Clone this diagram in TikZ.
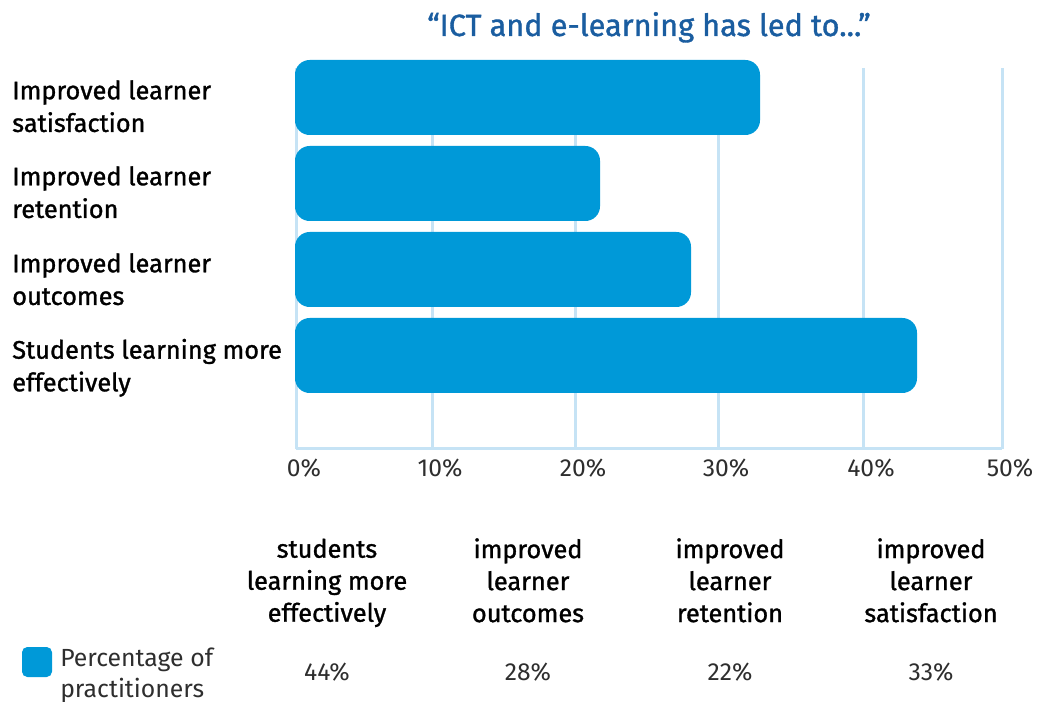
\documentclass[tikz,border=0pt]{standalone}
\usepackage{fontspec}
\setmainfont{Fira Sans}
\newfontfamily\medfont{Fira Sans}[FakeBold=1.2]
\definecolor{barblue}{HTML}{0099D8}
\definecolor{gridblue}{HTML}{C6E3F5}
\definecolor{titleblue}{HTML}{1A5DA0}
\definecolor{lighttext}{HTML}{2E2E2E}
\tikzset{
  gridline/.style={gridblue, line width=2.25pt},
  bar/.style={fill=barblue, rounded corners=11pt},
  rowlabel/.style={anchor=west, inner sep=0pt, align=left,
    font=\medfont\fontsize{19}{24.5}\selectfont,
    execute at begin node=\strut, execute at end node=\strut},
  colhead/.style={anchor=center, inner sep=0pt, align=center,
    font=\medfont\fontsize{19}{24}\selectfont,
    execute at begin node=\strut, execute at end node=\strut},
  ticklabel/.style={anchor=base, inner sep=0pt, text=lighttext,
    font=\fontsize{18.5}{22}\selectfont},
}
\begin{document}
\begin{tikzpicture}[x=0.75pt, y=-0.75pt]
\useasboundingbox (0,0) rectangle (1051,702);
%\draw[help lines] (0,0) grid[step=50] (1051,702);
% title
\node[anchor=base, inner sep=0pt, text=titleblue,
  font=\medfont\fontsize{23}{27}\selectfont] (title) at (649,36)
  {“ICT and e-learning has led to...”};
% grid and axis
\foreach \gx/\pc in {296/0,432/10,575/20,718/30,863/40,1002/50}{
  \draw[gridline] (\gx,68) -- (\gx,449);
  \node[ticklabel] (tick\pc) at (\gx+8,477) {\pc\%};
}
\draw[gridline] (296,449) -- (1002,449);
% bars
\foreach \by/\bx in {60/760,146/600,232/691,318/917}
  \fill[bar] (295,\by) rectangle (\bx,\by+75);
% row labels
\node[rowlabel] (satis) at (12,111) {Improved learner\\satisfaction};
\node[rowlabel] (reten) at (12,197) {Improved learner\\retention};
\node[rowlabel] (outc) at (12,284) {Improved learner\\outcomes};
\node[rowlabel] (effect) at (12,370) {Students learning more\\effectively};
% table below
\node[colhead] (hdeff) at (327,585) {students\\learning more\\effectively};
\node[colhead] (hdout) at (528,585) {improved\\learner\\outcomes};
\node[colhead] (hdret) at (730,585) {improved\\learner\\retention};
\node[colhead] (hdsat) at (931,585) {improved\\learner\\satisfaction};
\fill[barblue, rounded corners=4pt] (22,647) rectangle (52,677);
\node[anchor=west, inner sep=0pt, align=left, text=lighttext,
  font=\fontsize{18.6}{23.2}\selectfont,
  execute at begin node=\strut, execute at end node=\strut]
  (legend) at (60,677) {Percentage of\\practitioners};
\foreach \cx/\val/\nm in {327/44/eff,528/28/out,730/22/ret,931/33/sat}
  \node[ticklabel] (val\nm) at (\cx,681) {\val\%};
\end{tikzpicture}
\end{document}
